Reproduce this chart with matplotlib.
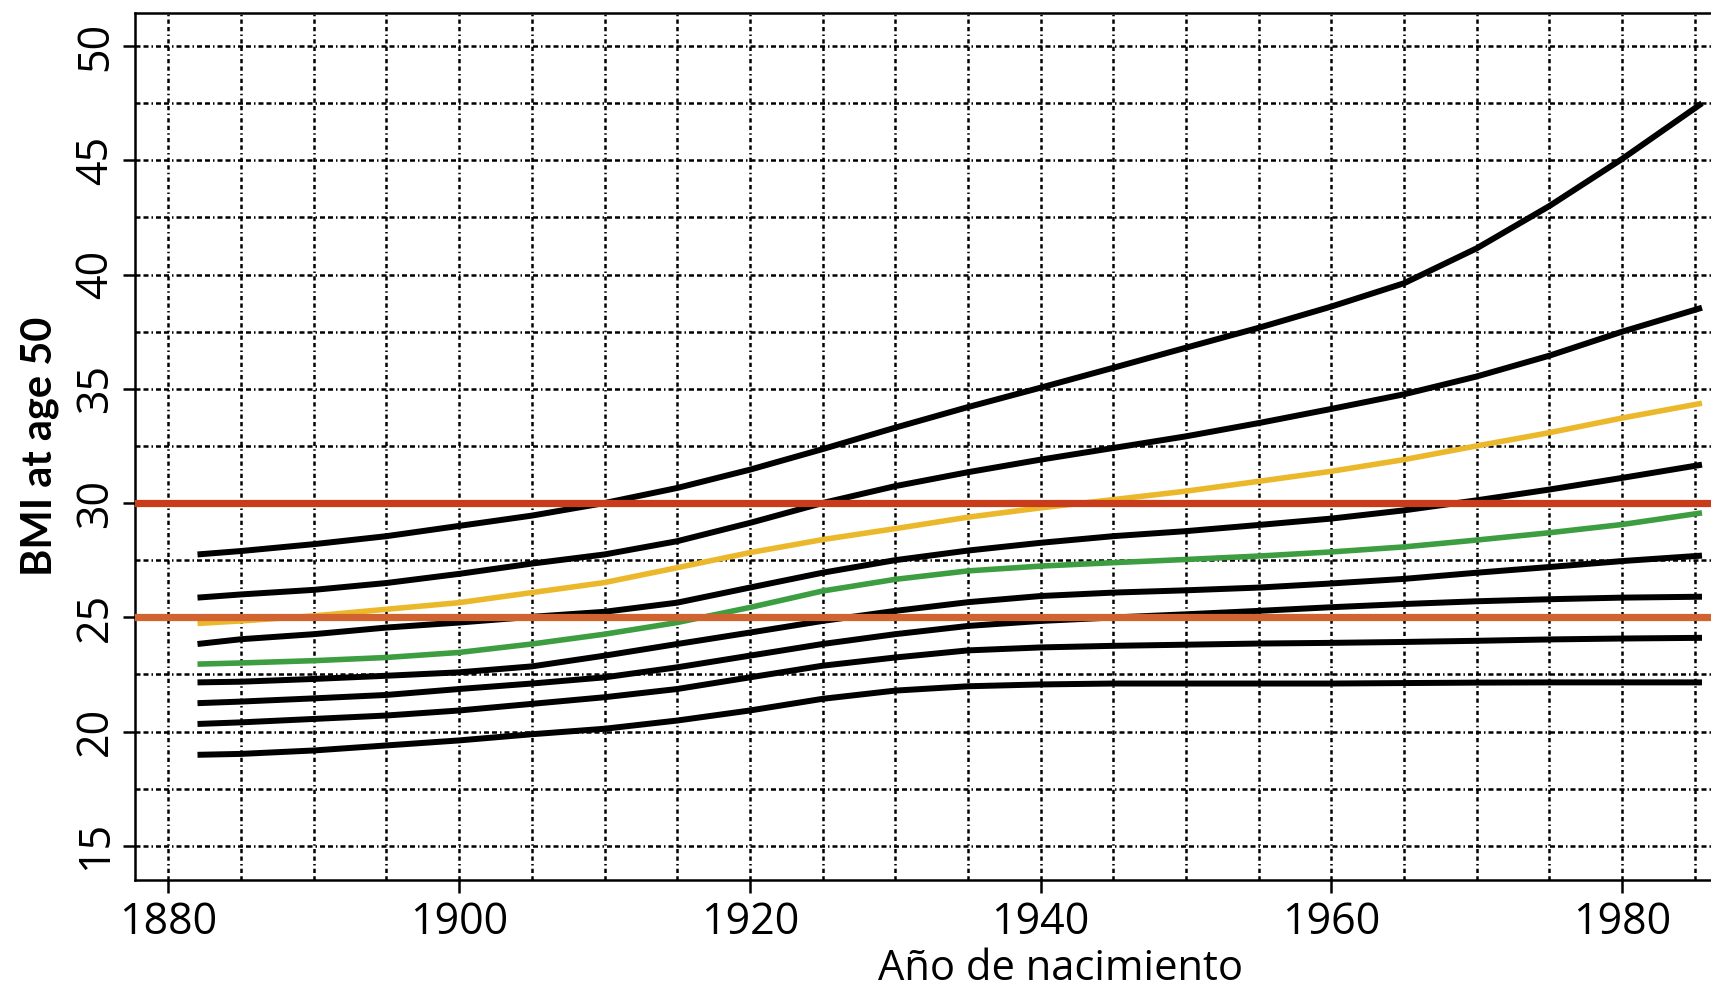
import matplotlib.pyplot as plt
from matplotlib.ticker import MultipleLocator

# --- Dados ---
anos = [1882, 1885, 1890, 1895, 1900, 1905, 1910, 1915, 1920, 1925, 1930,
        1935, 1940, 1945, 1950, 1955, 1960, 1965, 1970, 1975, 1980, 1985.5]

bmi_linha1 = [27.75, 27.9, 28.2, 28.55, 29.0, 29.45, 30.0, 30.66, 31.46, 32.36, 33.3,
              34.2, 35.05, 35.92, 36.8, 37.67, 38.6, 39.62, 41.15, 43.0, 45.06, 47.5]
bmi_linha2 = [25.86, 26.0, 26.2, 26.5, 26.9, 27.35, 27.75, 28.33, 29.13, 30.0, 30.74,
              31.35, 31.9, 32.41, 32.92, 33.5, 34.12, 34.76, 35.54, 36.45, 37.5, 38.55]
bmi_amarela = [24.73, 24.84, 25.06, 25.35, 25.64, 26.08, 26.52, 27.17, 27.83, 28.4, 28.88,
               29.38, 29.79, 30.15, 30.52, 30.95, 31.39, 31.9, 32.5, 33.08, 33.72, 34.37]
bmi_linha3 = [23.83, 24.04, 24.26, 24.55, 24.77, 25.02, 25.24, 25.64, 26.3, 26.95, 27.5,
              27.92, 28.26, 28.55, 28.77, 29.04, 29.32, 29.68, 30.12, 30.59, 31.1, 31.68]
bmi_verde = [22.95, 23.0, 23.1, 23.24, 23.46, 23.83, 24.26, 24.77, 25.43, 26.15, 26.66,
             27.03, 27.24, 27.39, 27.53, 27.68, 27.86, 28.08, 28.38, 28.7, 29.06, 29.57]
bmi_linha4 = [22.15, 22.18, 22.3, 22.44, 22.59, 22.85, 23.32, 23.83, 24.33, 24.84, 25.28,
              25.66, 25.93, 26.08, 26.18, 26.3, 26.48, 26.68, 26.95, 27.2, 27.46, 27.7]
bmi_linha5 = [21.24, 21.31, 21.45, 21.6, 21.86, 22.1, 22.37, 22.81, 23.32, 23.83, 24.26,
              24.62, 24.84, 24.99, 25.13, 25.28, 25.44, 25.58, 25.7, 25.79, 25.86, 25.9]
bmi_linha6 = [20.33, 20.4, 20.55, 20.7, 20.92, 21.21, 21.5, 21.86, 22.37, 22.88, 23.24,
              23.55, 23.68, 23.75, 23.8, 23.85, 23.88, 23.92, 23.97, 24.03, 24.07, 24.1]
bmi_linha7 = [18.98, 19.02, 19.17, 19.39, 19.61, 19.88, 20.12, 20.48, 20.92, 21.43, 21.79,
              21.98, 22.06, 22.1, 22.1, 22.1, 22.1, 22.12, 22.14, 22.15, 22.15, 22.15]

limite_obesidade = 30
limite_sobrepeso = 25

# --- Figura ---
fig = plt.figure(figsize=(17.11, 9.94), dpi=100)
ax = fig.add_axes([135 / 1711, 114 / 994, 1 - 135 / 1711, 867 / 994])

# grade tracejada com pontos
ax.xaxis.set_major_locator(MultipleLocator(20))
ax.xaxis.set_minor_locator(MultipleLocator(5))
ax.yaxis.set_major_locator(MultipleLocator(5))
ax.yaxis.set_minor_locator(MultipleLocator(2.5))
ax.xaxis.grid(True, which="both", color="black", lw=1.8,
              linestyle=(0, (1.7, 1.3, 1.7, 1.3, 0.6, 1.3)))
ax.yaxis.grid(True, which="both", color="black", lw=1.8,
              linestyle=(0, (2.0, 1.2, 2.0, 1.2, 0.6, 1.2)))
ax.set_axisbelow(True)

# curvas pretas
for serie in [bmi_linha1, bmi_linha2, bmi_linha3, bmi_linha4,
              bmi_linha5, bmi_linha6, bmi_linha7]:
    ax.plot(anos, serie, color="black", lw=4.3, solid_capstyle="butt",
            solid_joinstyle="round", zorder=3)

ax.plot(anos, bmi_amarela, color="#ecb82b", lw=4.0, solid_capstyle="butt",
        solid_joinstyle="round", zorder=3)
ax.plot(anos, bmi_verde, color="#3c9e41", lw=4.0, solid_capstyle="butt",
        solid_joinstyle="round", zorder=3)

# limites de sobrepeso e obesidade
ax.axhline(limite_obesidade, color="#c83c1b", lw=5.2, zorder=4)
ax.axhline(limite_sobrepeso, color="#d0632f", lw=5.2, zorder=4)

ax.set_xlim(1877.7, 1986.12)
ax.set_ylim(13.5, 51.45)
ax.set_yticks(range(15, 55, 5))

for lado in ["top", "left", "bottom"]:
    ax.spines[lado].set_linewidth(1.8)
ax.spines["right"].set_visible(False)

ax.tick_params(axis="both", which="major", direction="out", length=9, width=1.8,
               labelsize=31, color="black")
ax.tick_params(axis="both", which="minor", length=0)
ax.tick_params(axis="x", pad=6)
ax.tick_params(axis="y", pad=3, labelrotation=90)
for rotulo in ax.get_yticklabels():
    rotulo.set_verticalalignment("center")
for rotulo in ax.get_xticklabels() + ax.get_yticklabels():
    rotulo.set_family("Open Sans")

ax.set_ylabel("BMI at age 50", fontsize=30, fontweight="bold", family="Lato")
ax.yaxis.set_label_coords(-0.048, 0.5)
ax.set_xlabel("Año de nacimiento", fontsize=30, family="Open Sans")
ax.xaxis.set_label_coords(0.587, -0.078)

plt.savefig("out.png", dpi=100)
